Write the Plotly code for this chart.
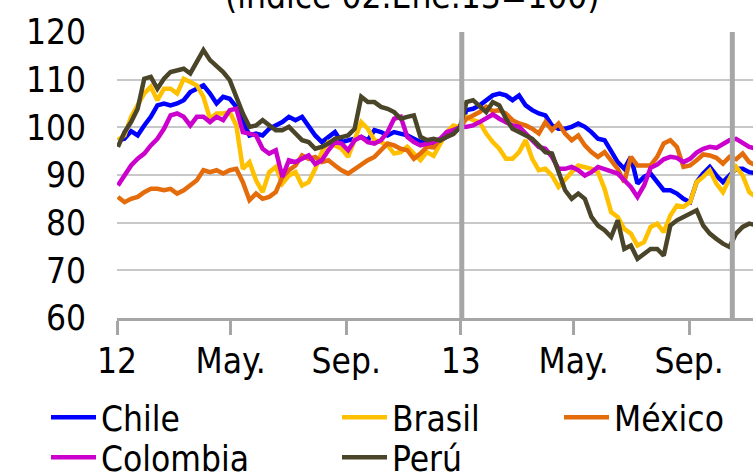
import pandas as pd
import plotly.graph_objects as go

# ---------------- data (weekly readings, índice 02.Ene.13 = 100) ----------------
start_date = "2012-01-02"
n_weeks = 98

chile = [97.3, 97.6, 99.2, 98.3, 100.4, 102.2, 104.6, 105.0, 104.6, 105.0, 105.7, 107.4,
         108.1, 108.8, 107.1, 105.0, 106.4, 106.0, 104.3, 101.1, 98.3, 98.7, 98.3, 99.7,
         100.4, 101.1, 102.2, 101.5, 102.2, 100.4, 98.3, 96.9, 98.0, 99.0, 96.9, 97.3,
         97.6, 98.0, 97.3, 99.4, 99.0, 98.3, 99.0, 98.7, 98.3, 97.6, 96.9, 97.3,
         96.2, 97.3, 98.0, 99.0, 100.0,
         103.6, 103.9, 104.6, 105.7, 106.7, 107.1, 106.7, 105.7, 106.7, 104.6, 103.6, 102.9,
         102.5, 100.4, 99.7, 99.7, 100.1, 100.8, 100.1, 99.0,
         97.6, 97.3, 95.2, 92.7, 91.3, 93.8, 88.2, 89.6, 90.3, 88.5, 86.8, 86.8,
         86.1, 85.0, 84.3, 88.5, 90.3, 91.7, 89.9, 88.5, 89.9, 91.3, 91.3, 90.6,
         90.4]

brasil = [97.3, 98.3, 102.2, 104.6, 107.1, 108.5, 105.7, 108.1, 108.1, 107.1, 110.2, 109.5,
          108.8, 106.4, 101.8, 102.9, 102.9, 103.2, 100.4, 91.3, 92.7, 88.9, 86.4, 90.6,
          91.7, 88.2, 89.9, 90.6, 87.8, 88.5, 91.3, 94.8, 96.9, 96.2, 95.5, 93.8,
          97.3, 101.1, 99.7, 97.3, 96.9, 96.2, 94.5, 94.8, 95.9, 94.5, 93.1, 94.8,
          94.0, 96.5, 99.0, 100.4, 100.0,
          102.2, 101.5, 101.1, 98.7, 96.9, 95.5, 93.4, 93.4, 94.8, 97.3, 93.4, 91.0,
          91.3, 89.9, 87.5, 89.2, 90.6, 92.0, 91.7, 91.3,
          90.6, 87.1, 82.2, 81.2, 78.7, 77.7, 75.2, 75.9, 79.1, 79.8, 78.0, 81.5,
          83.6, 83.3, 84.3, 88.5, 89.6, 91.0, 88.2, 86.4, 89.2, 91.7, 89.9, 86.4,
          85.4]

mexico = [85.4, 84.3, 85.0, 85.4, 86.4, 87.1, 87.1, 86.8, 87.1, 86.1, 86.8, 87.8,
          88.9, 91.0, 90.6, 91.0, 90.3, 91.0, 91.3, 88.5, 84.7, 86.1, 85.0, 85.4,
          86.4, 89.6, 91.0, 92.0, 94.1, 93.4, 93.8, 92.7, 93.1, 92.0, 91.0, 90.3,
          91.3, 92.1, 93.1, 93.8, 95.2, 96.6, 96.2, 95.5, 95.2, 93.4, 94.5, 95.9,
          95.8, 97.5, 98.6, 99.5, 100.0,
          101.8, 102.5, 103.2, 104.3, 103.4, 103.6, 102.9, 101.5, 100.8, 100.4, 99.7, 98.7,
          101.1, 99.4, 100.8, 98.7, 97.3, 98.3, 96.2, 94.8,
          93.8, 94.8, 93.1, 91.3, 88.5, 93.8, 92.0, 91.9, 92.0, 93.8, 96.6, 97.3,
          95.9, 91.7, 92.0, 93.1, 94.3, 94.1, 93.6, 92.4, 93.8, 93.3, 94.5, 92.7,
          92.0]

colombia = [87.8, 89.9, 92.0, 93.4, 94.5, 96.2, 97.6, 99.7, 102.5, 102.9, 102.2, 100.4,
            102.2, 102.2, 101.1, 102.2, 101.5, 103.6, 103.9, 99.0, 98.7, 98.3, 95.5, 94.5,
            95.2, 89.6, 93.1, 92.7, 93.4, 94.1, 92.3, 93.1, 95.2, 96.9, 96.6, 95.2,
            97.3, 98.0, 96.9, 96.6, 97.3, 99.0, 101.8, 102.2, 98.0, 96.9, 96.2, 96.6,
            96.9, 97.6, 99.0, 99.4, 100.0,
            100.1, 100.4, 101.1, 101.8, 102.7, 101.8, 101.1, 100.4, 100.1, 98.7, 97.6, 95.9,
            95.5, 93.8, 91.3, 91.3, 91.7, 91.0, 89.9, 90.6,
            91.7, 91.2, 90.6, 90.3, 88.9, 87.5, 85.4, 87.8, 91.5, 92.2, 93.3, 93.8,
            93.6, 92.7, 93.4, 94.7, 95.5, 95.9, 95.7, 96.4, 97.3, 97.6, 96.8, 95.9,
            95.5]

peru = [95.9, 99.0, 101.1, 103.9, 110.2, 110.6, 108.1, 110.2, 111.6, 112.0, 112.3, 111.3,
        113.7, 116.2, 114.1, 113.0, 111.6, 109.9, 106.4, 102.9, 100.1, 100.4, 101.5, 100.4,
        99.4, 99.4, 100.1, 98.7, 97.3, 96.9, 95.5, 95.9, 96.6, 97.6, 98.0, 98.3,
        99.7, 106.4, 105.3, 105.3, 104.3, 103.9, 103.2, 101.8, 102.2, 102.5, 98.0, 97.3,
        97.6, 97.2, 98.0, 98.6, 100.0,
        105.3, 105.7, 104.6, 103.2, 105.3, 104.6, 101.8, 99.7, 99.0, 98.3, 97.6, 96.2,
        94.8, 94.5, 90.3, 86.8, 85.0, 86.1, 85.0, 81.2,
        79.4, 78.4, 77.0, 80.5, 74.5, 75.2, 72.4, 73.5, 74.5, 74.5, 73.1, 79.4,
        80.5, 81.2, 81.9, 82.6, 79.4, 77.7, 76.6, 75.6, 74.9, 77.7, 79.1, 79.8,
        79.5]

series_names = ["Chile", "Brasil", "México", "Colombia", "Perú"]
tick_dates = ["2012-01-01", "2012-05-01", "2012-09-01", "2013-01-01", "2013-05-01", "2013-09-01"]
tick_labels = ["12", "May.", "Sep.", "13", "May.", "Sep."]
marker_dates = ["2013-01-02", "2013-10-17"]
title_text = "(índice 02.Ene.13=100)"

dates = pd.date_range(start=start_date, periods=n_weeks, freq="7D")

FONT = "DejaVu Sans Condensed, DejaVu Sans, sans-serif"
FS = 35

# plot area in pixels: left 117, right 753, top 32, bottom 318
PL, PW, PT, PH = 117, 636, 32, 286


def px_to_paper_x(px):
    return (px - PL) / PW


def px_to_paper_y(py):
    return (PT + PH - py) / PH


# legend slots: (name, values, colour, legend id, left px, top px)
row1_top, row2_top = 388, 428
traces = [
    ("Chile", chile, "#0000ff", "legend", 46, row1_top),
    ("Brasil", brasil, "#ffc000", "legend2", 337, row1_top),
    ("México", mexico, "#e46c0a", "legend3", 559, row1_top),
    ("Colombia", colombia, "#cc00cc", "legend4", 46, row2_top),
    ("Perú", peru, "#4a4429", "legend5", 337, row2_top),
]

fig = go.Figure()
legend_layout = {}
for name, vals, color, leg, lx, ly in traces:
    fig.add_trace(go.Scatter(x=dates, y=vals, name=name, mode="lines",
                             line=dict(color=color, width=4.5), legend=leg))
    legend_layout[leg] = dict(orientation="h", xanchor="left", yanchor="top",
                              x=px_to_paper_x(lx), y=px_to_paper_y(ly),
                              bgcolor="rgba(0,0,0,0)", itemwidth=45,
                              font=dict(family=FONT, size=FS, color="black"))

for d in marker_dates:
    fig.add_shape(type="line", xref="x", yref="paper", x0=d, x1=d, y0=0, y1=1,
                  line=dict(color="#a6a6a6", width=5), layer="above")

fig.update_layout(
    width=753, height=472,
    showlegend=True,
    margin=dict(l=PL, r=753 - PL - PW, t=PT, b=472 - PT - PH, autoexpand=False),
    paper_bgcolor="white", plot_bgcolor="white",
    font=dict(family=FONT, size=FS, color="black"),
    xaxis=dict(type="date", range=["2012-01-01", "2013-11-08"], automargin=False,
               tickvals=tick_dates, ticktext=tick_labels,
               ticks="outside", ticklen=14, tickwidth=3, tickcolor="#a6a6a6",
               ticklabelstandoff=-4,
               showline=True, linecolor="#a6a6a6", linewidth=3,
               showgrid=False, zeroline=False,
               tickfont=dict(family=FONT, size=FS, color="black")),
    yaxis=dict(range=[60, 120], dtick=10, tick0=60, automargin=False,
               showgrid=True, gridcolor="#c8c8c8", gridwidth=2,
               showline=False, zeroline=False, ticks="",
               ticklabelstandoff=30,
               tickfont=dict(family=FONT, size=FS, color="black")),
    annotations=[dict(text=title_text, xref="paper", yref="paper",
                      x=px_to_paper_x(412), y=1,
                      xanchor="center", yanchor="middle", yshift=36, showarrow=False,
                      font=dict(family=FONT, size=FS, color="black"))],
    **legend_layout,
)

fig.write_html("out.html", config={"displayModeBar": False},
               post_script="document.body.style.margin='0';document.body.style.padding='0';")
